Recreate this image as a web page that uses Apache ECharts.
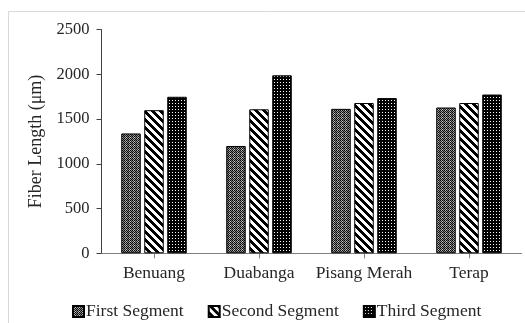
<!DOCTYPE html>
<html><head><meta charset="utf-8">
<script src="https://cdn.jsdelivr.net/npm/echarts@6/dist/echarts.min.js"></script>
<style>html,body{margin:0;padding:0;background:#fff}#c{width:525px;height:323px}</style>
</head><body><div id="c"></div>
<script>
var categories = ['Benuang', 'Duabanga', 'Pisang Merah', 'Terap'];
var firstSegment = [1340, 1200, 1615, 1630];
var secondSegment = [1600, 1610, 1680, 1680];
var thirdSegment = [1750, 1990, 1735, 1775];
var seriesNames = ['First Segment', 'Second Segment', 'Third Segment'];
var yTicks = [0, 500, 1000, 1500, 2000, 2500];

function makePattern(size, fn) {
  var c = document.createElement('canvas');
  c.width = size; c.height = size;
  var ctx = c.getContext('2d');
  for (var y = 0; y < size; y++) for (var x = 0; x < size; x++) {
    ctx.fillStyle = fn(x, y);
    ctx.fillRect(x, y, 1, 1);
  }
  return { image: c, repeat: 'repeat' };
}
var p1 = makePattern(4, function (x, y) {
  var m = [
    ['#000', '#aaa', '#000', '#777'],
    ['#888', '#222', '#ccc', '#222'],
    ['#000', '#bbb', '#000', '#888'],
    ['#777', '#222', '#999', '#111']
  ];
  return m[y][x];
});
var p2 = makePattern(8, function (x, y) {
  var d = ((x - y) % 8 + 8) % 8;
  return d < 4 ? '#000' : '#fff';
});
var p3 = makePattern(3, function (x, y) {
  return (x === 1 && y === 1) ? '#fff' : '#000';
});

var font = 'Liberation Serif';
var chart = echarts.init(document.getElementById('c'));
function mk(name, data, pat) {
  return {
    name: name, type: 'bar', data: data, barWidth: 19.5, barGap: '18%',
    itemStyle: { color: pat, borderColor: '#000', borderWidth: 1 }
  };
}
chart.setOption({
  animation: false,
  backgroundColor: '#fff',
  graphic: [{
    type: 'rect', shape: { x: 8.5, y: 11.5, width: 540, height: 340 },
    style: { fill: 'none', stroke: '#d9d9d9', lineWidth: 1 }, silent: true, z: -1
  }],
  grid: { left: 101.5, right: 3.5, top: 29.7, bottom: 69.7 },
  legend: {
    left: 72, top: 302.5, padding: 0, itemWidth: 11, itemHeight: 11, itemGap: 24,
    icon: 'rect',
    textStyle: { fontFamily: font, fontSize: 17.5, color: '#262626', padding: [0, 0, 0, -3] },
    data: seriesNames
  },
  xAxis: {
    type: 'category', data: categories,
    axisLine: { lineStyle: { color: '#808080', width: 1 } },
    axisTick: { show: true, alignWithLabel: true, length: 5, lineStyle: { color: '#808080' } },
    axisLabel: { interval: 0, fontFamily: font, fontSize: 17.5, color: '#262626', margin: 11 }
  },
  yAxis: {
    type: 'value', min: yTicks[0], max: yTicks[yTicks.length - 1], interval: 500,
    name: 'Fiber Length (μm)', nameLocation: 'middle', nameGap: 55, nameRotate: 90,
    nameTextStyle: { fontFamily: font, fontSize: 18, color: '#262626' },
    axisLine: { show: true, lineStyle: { color: '#404040', width: 1 } },
    axisTick: { show: true, length: 5, lineStyle: { color: '#404040' } },
    splitLine: { show: false },
    axisLabel: { fontFamily: font, fontSize: 16.5, color: '#262626', margin: 12,
      formatter: function (v) { return String(v); } }
  },
  series: [
    mk(seriesNames[0], firstSegment, p1),
    mk(seriesNames[1], secondSegment, p2),
    mk(seriesNames[2], thirdSegment, p3)
  ]
});
</script></body></html>
